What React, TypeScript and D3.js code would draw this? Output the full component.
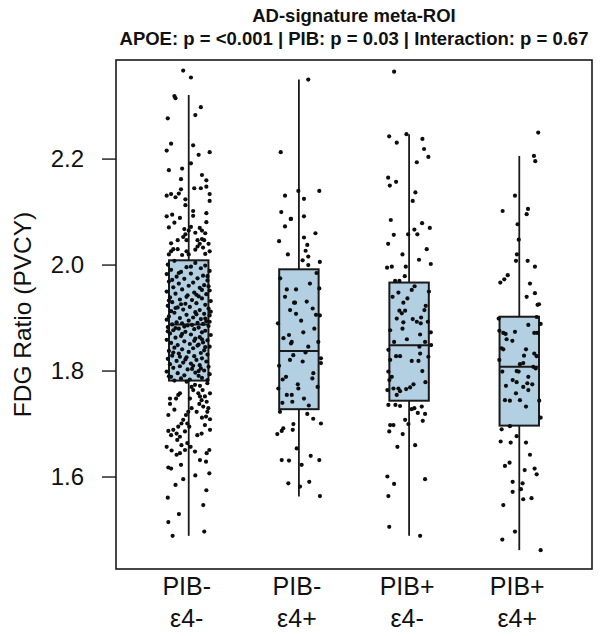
import React from "react";
import * as d3 from "d3";

// ---------- data ----------
const categories = ["PIB-\nε4-", "PIB-\nε4+", "PIB+\nε4-", "PIB+\nε4+"];
const titleLines = [
  "AD-signature meta-ROI",
  "APOE: p = <0.001 | PIB: p = 0.03 | Interaction: p = 0.67",
];
const yLabel = "FDG Ratio (PVCY)";
const yTicks = [1.6, 1.8, 2.0, 2.2];

// box statistics: [whiskerLow, q1, median, q3, whiskerHigh]
const boxStats: number[][] = [
  [1.489, 1.782, 1.888, 2.009, 2.321],
  [1.563, 1.728, 1.838, 1.992, 2.35],
  [1.489, 1.744, 1.8485, 1.967, 2.247],
  [1.462, 1.697, 1.808, 1.9025, 2.206],
];

// jittered points: [jitter (category units), value]
const g1Upper = [[-0.05,2.367],[0.02,2.354],[-0.13,2.319],[-0.12,2.315],[0.11,2.298],[0.06,2.283],[-0.19,2.277],[-0.16,2.229],[-0.2,2.216],[0.04,2.226],[0.09,2.208],[0.19,2.213],[-0.18,2.179],[-0.06,2.182],[0.02,2.192],[-0.07,2.162],[0.12,2.17],[0.16,2.16],[0.05,2.145],[0.11,2.145],[0.16,2.148],[-0.07,2.143],[-0.2,2.131],[-0.16,2.134],[-0.12,2.128],[-0.09,2.135],[0.19,2.134],[0.19,2.121],[-0.03,2.124],[-0.03,2.113],[-0.2,2.092],[-0.15,2.095],[-0.08,2.089],[-0.18,2.071],[-0.13,2.08],[0.04,2.102],[0.04,2.093],[0.16,2.098],[0.16,2.081],[0.02,2.072],[0.1,2.07],[0.06,2.061],[0.12,2.065],[0.15,2.06],[-0.04,2.068],[-0.03,2.058],[-0.02,2.047],[0.0,2.065],[-0.16,2.041],[-0.1,2.047],[-0.05,2.053],[0.08,2.047],[0.12,2.049],[0.1,2.04],[0.14,2.047],[0.18,2.04],[0.08,2.035],[-0.14,2.03],[-0.1,2.03],[-0.18,2.02],[-0.16,2.026],[-0.02,2.026],[-0.06,2.019],[0.0,2.02],[0.06,2.029],[0.13,2.033],[0.15,2.021],[0.19,2.026]];
const g1Box = [[-0.13,2.008],[0.06,2.004],[-0.19,2.001],[0.15,1.999],[-0.02,1.996],[0.11,1.994],[-0.16,1.991],[0.19,1.989],[-0.07,1.987],[0.02,1.984],[-0.2,1.983],[0.13,1.98],[-0.11,1.978],[0.08,1.975],[-0.04,1.974],[0.17,1.971],[-0.18,1.969],[0.04,1.967],[-0.09,1.965],[0.14,1.962],[0.0,1.961],[-0.14,1.958],[0.1,1.957],[-0.06,1.954],[0.19,1.952],[-0.2,1.95],[0.05,1.948],[-0.12,1.946],[0.16,1.945],[-0.01,1.943],[0.09,1.941],[-0.17,1.939],[0.12,1.937],[-0.08,1.935],[0.03,1.934],[0.2,1.932],[-0.15,1.93],[0.07,1.928],[-0.03,1.927],[0.15,1.925],[-0.19,1.923],[0.01,1.921],[-0.1,1.92],[0.18,1.918],[-0.05,1.916],[0.1,1.915],[-0.16,1.913],[0.06,1.911],[-0.13,1.91],[0.14,1.908],[-0.02,1.906],[0.19,1.905],[-0.18,1.903],[0.04,1.901],[-0.08,1.9],[0.11,1.898],[-0.2,1.897],[0.0,1.895],[0.16,1.894],[-0.11,1.892],[0.08,1.891],[-0.06,1.89],[0.13,1.889],[-0.15,1.888],[0.03,1.887],[-0.01,1.886],[0.18,1.885],[-0.19,1.883],[0.09,1.882],[-0.09,1.88],[0.05,1.879],[-0.14,1.877],[0.15,1.876],[-0.03,1.874],[0.12,1.873],[-0.17,1.871],[0.02,1.869],[0.2,1.868],[-0.07,1.866],[0.1,1.864],[-0.12,1.863],[0.06,1.861],[-0.2,1.859],[0.17,1.858],[-0.04,1.856],[0.13,1.854],[-0.16,1.853],[0.01,1.851],[-0.1,1.849],[0.08,1.848],[0.19,1.846],[-0.13,1.844],[0.04,1.843],[-0.06,1.841],[0.14,1.839],[-0.18,1.838],[0.0,1.836],[0.11,1.834],[-0.09,1.833],[0.17,1.831],[-0.15,1.829],[0.05,1.828],[-0.02,1.826],[0.12,1.824],[-0.19,1.823],[0.07,1.821],[-0.11,1.819],[0.16,1.818],[-0.05,1.816],[0.02,1.814],[-0.17,1.813],[0.1,1.811],[-0.08,1.809],[0.18,1.808],[-0.14,1.806],[0.03,1.804],[-0.01,1.803],[0.14,1.801],[-0.2,1.799],[0.06,1.797],[-0.1,1.796],[0.19,1.794],[-0.04,1.792],[0.09,1.791],[-0.16,1.789],[0.12,1.787],[-0.07,1.786],[0.01,1.784],[0.17,1.783],[-0.13,1.782],[0.02,1.997],[-0.15,1.972],[0.07,1.944],[-0.12,1.919],[0.19,1.893],[-0.06,1.87],[0.15,1.845],[-0.03,1.822],[0.09,1.8],[-0.09,1.985],[0.18,1.96],[-0.18,1.933],[0.07,1.907],[-0.04,1.884],[0.12,1.86],[-0.14,1.835],[0.04,1.81],[-0.18,1.79],[0.12,1.953],[-0.07,1.926],[0.15,1.899],[-0.19,1.875],[0.09,1.85],[-0.08,1.827],[0.11,1.805],[0.17,1.979],[-0.02,1.94],[0.2,1.912],[-0.12,1.881],[0.05,1.857]];
const g1Lower = [[-0.019,1.78],[0.026,1.77],[0.057,1.774],[0.102,1.772],[0.126,1.764],[0.169,1.777],[0.193,1.758],[0.147,1.752],[0.117,1.745],[0.163,1.742],[0.096,1.738],[0.132,1.733],[0.178,1.73],[0.072,1.723],[0.026,1.73],[-0.004,1.723],[-0.025,1.717],[-0.095,1.755],[-0.115,1.748],[-0.17,1.748],[-0.08,1.758],[-0.05,1.708],[-0.066,1.701],[-0.013,1.701],[-0.095,1.695],[-0.14,1.689],[-0.185,1.687],[-0.16,1.679],[-0.11,1.682],[-0.08,1.676],[-0.034,1.686],[0.005,1.695],[0.078,1.679],[0.117,1.682],[0.193,1.689],[0.147,1.698],[-0.013,1.664],[-0.104,1.67],[-0.066,1.66],[-0.2,1.657],[-0.155,1.65],[-0.11,1.642],[-0.08,1.645],[-0.034,1.651],[0.017,1.657],[0.057,1.648],[0.102,1.632],[0.157,1.629],[0.163,1.645],[0.187,1.651],[-0.185,1.618],[-0.16,1.616],[-0.07,1.623],[0.187,1.607],[-0.19,1.561],[-0.089,1.53],[0.132,1.547],[-0.185,1.515],[-0.146,1.489],[0.141,1.497],[-0.185,1.717],[0.157,1.714],[0.193,1.709],[0.169,1.723],[0.041,1.764],[0.011,1.748],[0.087,1.758],[0.102,1.752],[-0.05,1.596],[0.06,1.603],[0.16,1.575],[-0.12,1.585],[-0.17,1.738],[-0.13,1.727],[0.12,1.712]];

const g2Points = [[0.085,2.35],[0.185,2.14],[-0.005,2.14],[0.046,2.125],[0.046,2.092],[-0.072,2.087],[0.046,2.052],[0.076,2.038],[0.061,2.027],[0.085,2.016],[0.034,2.009],[0.19,2.006],[0.085,2.0],[-0.165,2.213],[-0.126,2.131],[-0.074,2.087],[-0.126,2.073],[-0.16,2.1],[-0.18,2.045],[-0.1,2.02],[0.15,2.06],
  [-0.026,1.954],[0.185,1.956],[-0.044,1.929],[0.071,1.931],[-0.026,1.908],[0.125,1.918],[0.155,1.906],[0.04,1.873],[-0.072,1.852],[0.176,1.855],[0.085,1.846],[-0.051,1.83],[0.034,1.818],[0.2,1.824],[0.2,1.815],[0.131,1.796],[0.122,1.786],[-0.005,1.767],[-0.065,1.755],[0.046,1.748],[-0.11,1.954],[-0.126,1.94],[-0.035,1.929],[-0.09,1.868],[-0.065,1.855],[-0.081,1.821],[-0.117,1.789],[-0.147,1.784],[-0.187,1.767],[-0.01,1.775],[-0.11,1.755],[-0.06,1.742],[0.16,1.985],[-0.17,1.975],[0.1,1.965],[-0.19,1.89],[0.14,1.88],[-0.14,1.862],[0.06,1.835],[-0.18,1.81],[0.17,1.77],[-0.15,1.74],[0.09,1.735],[0.19,1.905],[-0.08,1.915],[0.02,1.895],
  [0.076,1.719],[0.2,1.701],[-0.056,1.689],[-0.02,1.654],[0.025,1.623],[0.01,1.582],[0.107,1.64],[0.185,1.632],[0.094,1.591],[0.191,1.564],[-0.172,1.723],[-0.142,1.692],[-0.156,1.687],[-0.196,1.681],[-0.05,1.7],[-0.156,1.632],[-0.09,1.631],[-0.096,1.588],[0.13,1.71]];

const g3Points = [[-0.136,2.365],[-0.181,2.243],[-0.112,2.231],[-0.024,2.247],[0.121,2.238],[0.136,2.219],[0.175,2.204],[0.07,2.194],[-0.19,2.165],[-0.175,2.15],[-0.118,2.157],[0.057,2.137],[0.033,2.121],[-0.166,2.085],[-0.139,2.057],[-0.009,2.058],[0.118,2.079],[0.188,2.07],[0.048,2.067],[0.075,2.058],[0.197,2.002],[-0.2,1.995],[-0.157,1.997],[-0.03,1.997],[-0.127,1.97],[-0.088,1.97],[-0.039,1.979],[0.16,2.03],[-0.06,2.02],[0.09,2.01],[-0.19,2.04],
  [-0.097,1.948],[0.024,1.953],[-0.015,1.937],[-0.052,1.929],[-0.088,1.914],[-0.066,1.909],[-0.036,1.914],[-0.112,1.899],[-0.052,1.892],[0.033,1.898],[0.07,1.893],[0.109,1.901],[0.151,1.923],[0.139,1.915],[0.106,1.89],[0.17,1.893],[-0.172,1.877],[0.197,1.873],[0.1,1.869],[-0.136,1.855],[0.145,1.855],[0.2,1.849],[0.094,1.846],[-0.172,1.821],[-0.118,1.828],[-0.082,1.828],[0.024,1.819],[0.085,1.819],[-0.188,1.799],[-0.157,1.789],[-0.179,1.783],[-0.197,1.764],[-0.142,1.767],[-0.097,1.767],[-0.082,1.762],[-0.027,1.766],[0.009,1.769],[-0.112,1.755],[0.148,1.779],[0.1,1.833],[0.175,1.827],[-0.188,1.84],[0.05,1.96],[-0.15,1.94],[0.18,1.95],[-0.02,1.86],[0.12,1.8],[0.04,1.775],[-0.06,1.88],
  [-0.188,1.736],[-0.124,1.736],[-0.082,1.734],[-0.036,1.708],[-0.006,1.7],[-0.058,1.681],[-0.106,1.657],[-0.172,1.698],[-0.18,1.686],[-0.142,1.698],[0.055,1.66],[0.145,1.596],[-0.197,1.601],[-0.136,1.587],[-0.188,1.564],[-0.18,1.506],[0.1,1.489],[0.048,1.73],[0.079,1.721],[0.115,1.733],[0.145,1.719],[0.124,1.706],[0.024,1.728]];

const g4Points = [[0.172,2.25],[0.133,2.206],[0.145,2.196],[-0.039,2.131],[-0.151,2.102],[0.079,2.106],[0.067,2.096],[-0.015,2.077],[-0.005,2.048],[-0.021,2.02],[-0.03,2.008],[0.076,2.008],[0.142,1.997],[-0.105,1.981],[-0.136,1.973],[-0.172,1.967],[0.097,1.965],[0.142,1.947],[0.067,1.94],[0.166,1.925],[0.179,1.926],
  [-0.187,1.899],[0.158,1.902],[0.082,1.887],[0.194,1.889],[-0.181,1.876],[-0.145,1.872],[-0.124,1.87],[-0.039,1.874],[0.136,1.872],[0.163,1.872],[-0.115,1.86],[-0.063,1.857],[-0.16,1.843],[-0.145,1.841],[0.061,1.841],[0.136,1.833],[0.158,1.828],[0.043,1.829],[-0.181,1.821],[0.006,1.813],[0.036,1.815],[0.127,1.808],[0.149,1.805],[-0.154,1.799],[-0.024,1.8],[-0.006,1.799],[0.082,1.789],[-0.06,1.783],[-0.024,1.779],[-0.121,1.772],[0.036,1.77],[0.073,1.777],[0.118,1.775],[0.082,1.764],[-0.03,1.758],[-0.13,1.745],[-0.085,1.744],[0.006,1.745],[0.181,1.744],[0.061,1.733],[0.194,1.712],[-0.085,1.696],
  [-0.16,1.69],[-0.024,1.677],[-0.169,1.667],[-0.078,1.665],[0.061,1.665],[0.097,1.642],[-0.13,1.621],[-0.088,1.627],[0.049,1.613],[0.139,1.616],[0.158,1.605],[-0.06,1.591],[-0.06,1.572],[0.03,1.588],[0.015,1.577],[0.036,1.558],[0.111,1.56],[-0.145,1.547],[-0.039,1.497],[-0.154,1.482],[0.194,1.462]];

const groupPoints = [[...g1Upper, ...g1Box, ...g1Lower], g2Points, g3Points, g4Points];

// ---------- layout ----------
const W = 602, H = 636;
const plot = { left: 116, right: 592, top: 60, bottom: 569 };
const FONT = "'Liberation Sans', Arial, Helvetica, sans-serif";
const BOX_HALF = 0.179;

export default function App() {
  const x = d3.scaleLinear().domain([0.34, 4.66]).range([plot.left, plot.right]);
  const y = d3.scaleLinear().domain([1.4264, 2.387]).range([plot.bottom, plot.top]);
  const cx = (plot.left + plot.right) / 2;
  const cy = (plot.top + plot.bottom) / 2;

  return (
    <svg width={W} height={H} style={{ position: "absolute", left: 0, top: 0, background: "#fff" }}
      fontFamily={FONT}>
      {/* title */}
      {titleLines.map((t, i) => (
        <text key={i} x={cx} y={22 + i * 23} textAnchor="middle" fontWeight="bold" fontSize={18.5}
          fill="#111">{t}</text>
      ))}

      {/* boxes */}
      {boxStats.map((s, i) => {
        const p = i + 1;
        const [lo, q1, med, q3, hi] = s;
        return (
          <g key={i}>
            <line x1={x(p)} x2={x(p)} y1={y(q3)} y2={y(hi)} stroke="#1a1a1a" strokeWidth={1.8} />
            <line x1={x(p)} x2={x(p)} y1={y(q1)} y2={y(lo)} stroke="#1a1a1a" strokeWidth={1.8} />
            <rect x={x(p - BOX_HALF)} y={y(q3)} width={x(p + BOX_HALF) - x(p - BOX_HALF)}
              height={y(q1) - y(q3)} fill="#b3d0e2" stroke="#1a1a1a" strokeWidth={2} />
            <line x1={x(p - BOX_HALF)} x2={x(p + BOX_HALF)} y1={y(med)} y2={y(med)}
              stroke="#1a1a1a" strokeWidth={2} />
          </g>
        );
      })}

      {/* points */}
      {groupPoints.map((pts, i) =>
        pts.map((d, k) => (
          <circle key={i + "-" + k} cx={x(i + 1 + d[0])} cy={y(d[1])} r={2.1} fill="#0d0d0d" />
        ))
      )}

      {/* frame */}
      <rect x={plot.left} y={plot.top} width={plot.right - plot.left} height={plot.bottom - plot.top}
        fill="none" stroke="#1a1a1a" strokeWidth={1.6} />

      {/* y axis ticks */}
      {yTicks.map((t) => (
        <g key={t}>
          <line x1={plot.left - 14} x2={plot.left} y1={y(t)} y2={y(t)} stroke="#1a1a1a" strokeWidth={1.4} />
          <text x={plot.left - 32} y={y(t)} dy="0.35em" textAnchor="end" fontSize={24} fill="#111">
            {t.toFixed(1)}
          </text>
        </g>
      ))}

      {/* y label */}
      <text transform={`translate(31,${cy}) rotate(-90)`} textAnchor="middle" fontSize={24.5} fill="#111">
        {yLabel}
      </text>

      {/* x labels */}
      {categories.map((c, i) =>
        c.split("\n").map((line, j) => (
          <text key={i + "-" + j} x={x(i + 1) - 2} y={595 + j * 32} textAnchor="middle" fontSize={25} fill="#111">
            {line}
          </text>
        ))
      )}
    </svg>
  );
}
